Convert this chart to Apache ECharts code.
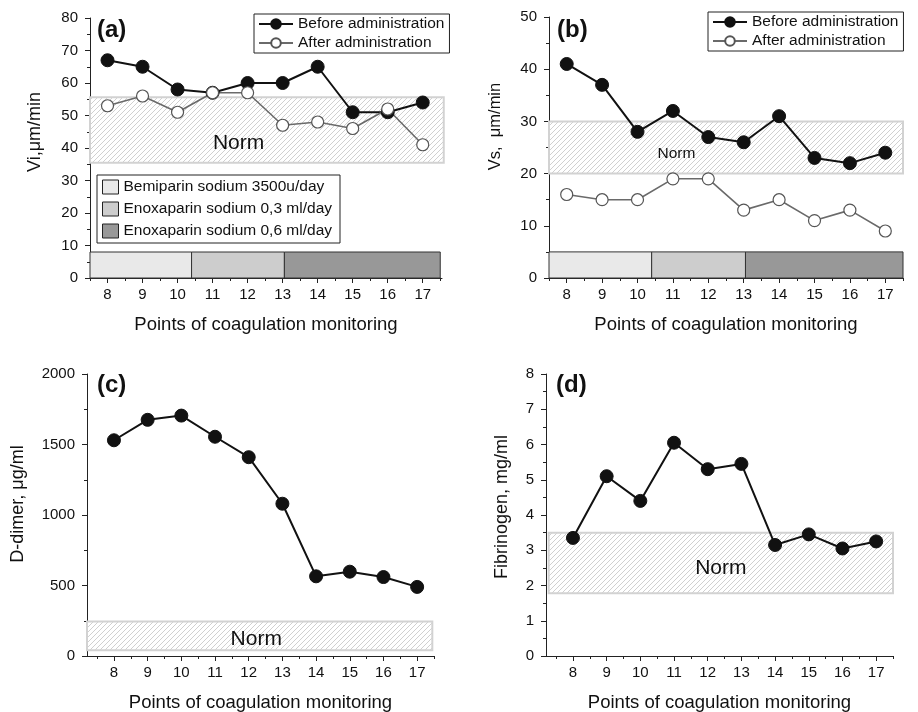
<!DOCTYPE html>
<html>
<head>
<meta charset="utf-8">
<script src="https://cdn.jsdelivr.net/npm/echarts@6/dist/echarts.min.js"></script>
<style>
  body { margin: 0; background: #fff; }
  #main { width: 918px; height: 712px; }
</style>
</head>
<body>
<div id="main"></div>
<script>
// ---- data ----
const points = [8, 9, 10, 11, 12, 13, 14, 15, 16, 17];
const halfTicks = [7.5, 8.5, 9.5, 10.5, 11.5, 12.5, 13.5, 14.5, 15.5, 16.5, 17.5];

const viBefore = [67, 65, 58, 57, 60, 60, 65, 51, 51, 54];
const viAfter = [53, 56, 51, 57, 57, 47, 48, 46, 52, 41];
const vsBefore = [41, 37, 28, 32, 27, 26, 31, 23, 22, 24];
const vsAfter = [16, 15, 15, 19, 19, 13, 15, 11, 13, 9];
const dDimer = [1530, 1675, 1705, 1555, 1410, 1080, 565, 598, 560, 490];
const fibrinogen = [3.35, 5.1, 4.4, 6.05, 5.3, 5.45, 3.15, 3.45, 3.05, 3.25];

// norm ranges (low, high)
const normVi = [35.5, 55.6];
const normVs = [20, 30];
const normDd = [40, 245];
const normFg = [1.78, 3.5];

// drug periods along the monitoring points
const drugNames = ['Bemiparin sodium 3500u/day', 'Enoxaparin sodium 0,3 ml/day', 'Enoxaparin sodium 0,6 ml/day'];
const drugFrom = [7.5, 10.4, 13.05];
const drugTo = [10.4, 13.05, 17.5];
const bandTopVi = 8;
const bandTopVs = 5;

// ---- styles ----
const FONT = '"Liberation Sans", Arial, sans-serif';
const drugColors = ['#e9e9e9', '#cdcdcd', '#989898'];
const TXT = '#111';

function hatchCanvas() {
    const c = document.createElement('canvas');
    c.width = 5; c.height = 5;
    const ctx = c.getContext('2d');
    ctx.strokeStyle = '#c4c4c4';
    ctx.lineWidth = 0.8;
    ctx.beginPath();
    ctx.moveTo(0, 5); ctx.lineTo(5, 0);
    ctx.moveTo(-1, 1); ctx.lineTo(1, -1);
    ctx.moveTo(4, 6); ctx.lineTo(6, 4);
    ctx.stroke();
    return c;
}
const hatch = hatchCanvas();

function xAxes(grid, min, max) {
    return [{
        gridIndex: grid, type: 'value', position: 'bottom', min: min, max: max,
        axisLine: { show: true, lineStyle: { color: '#222', width: 1 } },
        axisTick: { show: true, customValues: points, length: 5, lineStyle: { color: '#222' } },
        axisLabel: { customValues: points, fontSize: 15, color: TXT, margin: 9, fontFamily: FONT },
        splitLine: { show: false },
        name: 'Points of coagulation monitoring', nameLocation: 'middle', nameGap: 37,
        nameTextStyle: { fontSize: 18.5, color: TXT, fontFamily: FONT }
    }, {
        gridIndex: grid, type: 'value', position: 'bottom', min: min, max: max,
        axisLine: { show: false },
        axisTick: { show: true, customValues: halfTicks, length: 3, lineStyle: { color: '#222' } },
        axisLabel: { show: false },
        splitLine: { show: false }
    }];
}

function yAxis(grid, max, interval, name, gap, size, shift) {
    return {
        gridIndex: grid, type: 'value', min: 0, max: max, interval: interval,
        axisLine: { show: true, lineStyle: { color: '#222', width: 1 } },
        axisTick: { show: true, length: 5, lineStyle: { color: '#222' } },
        minorTick: { show: true, splitNumber: 2, length: 3, lineStyle: { color: '#222' } },
        axisLabel: { fontSize: 15, color: TXT, margin: 12, fontFamily: FONT, formatter: v => String(v) },
        splitLine: { show: false },
        name: name, nameLocation: 'middle', nameGap: gap,
        nameTextStyle: { fontSize: size, color: TXT, fontFamily: FONT, padding: [0, 0, 0, shift] }
    };
}

function lineSeries(name, g, values, open) {
    return {
        name: name, type: 'line', xAxisIndex: 2 * g, yAxisIndex: g, z: 5,
        data: points.map((p, i) => [p, values[i]]),
        symbol: 'circle', symbolSize: open ? 12 : 13,
        lineStyle: { color: open ? '#6a6a6a' : '#111', width: open ? 1.6 : 2 },
        itemStyle: open ? { color: '#fff', borderColor: '#555', borderWidth: 1.2 }
                        : { color: '#111', borderColor: '#111', borderWidth: 1 }
    };
}

function bandRender(params, api) {
    const p0 = api.coord([api.value(0), api.value(3)]);
    const p1 = api.coord([api.value(1), api.value(2)]);
    return {
        type: 'rect',
        shape: { x: p0[0], y: p0[1], width: p1[0] - p0[0], height: p1[1] - p0[1] },
        style: { fill: api.visual('color'), stroke: '#333', lineWidth: 1 }
    };
}

function bandSeries(g, top) {
    return drugNames.map((n, i) => ({
        name: n, type: 'custom', xAxisIndex: 2 * g, yAxisIndex: g, z: 2, silent: true,
        itemStyle: { color: drugColors[i], borderColor: '#222', borderWidth: 1 },
        renderItem: bandRender,
        encode: { x: [0, 1], y: [2, 3] },
        data: [[drugFrom[i], drugTo[i], 0, top]]
    }));
}

function normSeries(g, x0, x1, range, fx, fy, size) {
    return {
        type: 'custom', xAxisIndex: 2 * g, yAxisIndex: g, z: 1, silent: true,
        encode: { x: [0, 1], y: [2, 3] },
        data: [[x0, x1, range[0], range[1]]],
        renderItem: function (params, api) {
            const p0 = api.coord([api.value(0), api.value(3)]);
            const p1 = api.coord([api.value(1), api.value(2)]);
            const w = p1[0] - p0[0], h = p1[1] - p0[1];
            return {
                type: 'group',
                children: [{
                    type: 'rect',
                    shape: { x: p0[0], y: p0[1], width: w, height: h },
                    style: { fill: { image: hatch, repeat: 'repeat' }, stroke: '#d2d2d2', lineWidth: 2 }
                }, {
                    type: 'text',
                    style: {
                        text: 'Norm', x: p0[0] + w * fx, y: p0[1] + h * fy,
                        align: 'center', verticalAlign: 'middle',
                        fontSize: size, fontFamily: FONT, fill: TXT
                    }
                }]
            };
        }
    };
}

const chart = echarts.init(document.getElementById('main'));

const legendBase = {
    orient: 'vertical', borderColor: '#222', borderWidth: 1, borderRadius: 0,
    textStyle: { fontSize: 15.5, color: TXT, fontFamily: FONT }
};

chart.setOption({
    animation: false,
    backgroundColor: '#fff',
    title: [
        { text: '(a)', left: 92, top: 13, textStyle: { fontSize: 24, fontWeight: 'bold', color: TXT, fontFamily: FONT } },
        { text: '(b)', left: 552, top: 13, textStyle: { fontSize: 24, fontWeight: 'bold', color: TXT, fontFamily: FONT } },
        { text: '(c)', left: 92, top: 368, textStyle: { fontSize: 24, fontWeight: 'bold', color: TXT, fontFamily: FONT } },
        { text: '(d)', left: 551, top: 368, textStyle: { fontSize: 24, fontWeight: 'bold', color: TXT, fontFamily: FONT } }
    ],
    legend: [
        Object.assign({}, legendBase, {
            left: 254, top: 14, data: ['Before administration', 'After administration'],
            itemWidth: 34, itemHeight: 12, itemGap: 3, padding: [2, 5, 2, 4]
        }),
        Object.assign({}, legendBase, {
            left: 708, top: 12, data: ['Before administration', 'After administration'],
            itemWidth: 34, itemHeight: 12, itemGap: 3, padding: [2, 5, 2, 4]
        }),
        Object.assign({}, legendBase, {
            left: 97, top: 175,
            data: drugNames.map((n, i) => ({
                name: n, icon: 'rect',
                itemStyle: { color: drugColors[i], borderColor: '#222', borderWidth: 1 }
            })),
            itemWidth: 16, itemHeight: 14, itemGap: 6, padding: [4, 8, 4, 5]
        })
    ],
    grid: [
        { left: 90, top: 18, width: 352, height: 260, outerBoundsMode: 'none' },
        { left: 549, top: 17, width: 354, height: 261, outerBoundsMode: 'none' },
        { left: 87, top: 374, width: 347, height: 282, outerBoundsMode: 'none' },
        { left: 546, top: 374, width: 347, height: 282, outerBoundsMode: 'none' }
    ],
    xAxis: [].concat(
        xAxes(0, 7.5, 17.55),
        xAxes(1, 7.5, 17.5),
        xAxes(2, 7.2, 17.5),
        xAxes(3, 7.2, 17.5)
    ),
    yAxis: [
        yAxis(0, 80, 10, 'Vi,\u03bcm/min', 46, 18, 32),
        yAxis(1, 50, 10, 'Vs,  \u03bcm/min', 45, 16.5, 42),
        yAxis(2, 2000, 500, 'D-dimer, \u03bcg/ml', 60, 18, 22),
        yAxis(3, 8, 1, 'Fibrinogen, mg/ml', 35, 18, 16)
    ],
    series: [].concat(
        [normSeries(0, 7.5, 17.6, normVi, 0.42, 0.7, 21)],
        bandSeries(0, bandTopVi),
        [lineSeries('Before administration', 0, viBefore, false),
         lineSeries('After administration', 0, viAfter, true)],
        [normSeries(1, 7.5, 17.5, normVs, 0.36, 0.62, 15.5)],
        bandSeries(1, bandTopVs),
        [lineSeries('Before administration', 1, vsBefore, false),
         lineSeries('After administration', 1, vsAfter, true)],
        [normSeries(2, 7.2, 17.45, normDd, 0.49, 0.6, 21)],
        [lineSeries('D-dimer', 2, dDimer, false)],
        [normSeries(3, 7.28, 17.5, normFg, 0.5, 0.58, 21)],
        [lineSeries('Fibrinogen', 3, fibrinogen, false)]
    )
});
</script>
</body>
</html>
